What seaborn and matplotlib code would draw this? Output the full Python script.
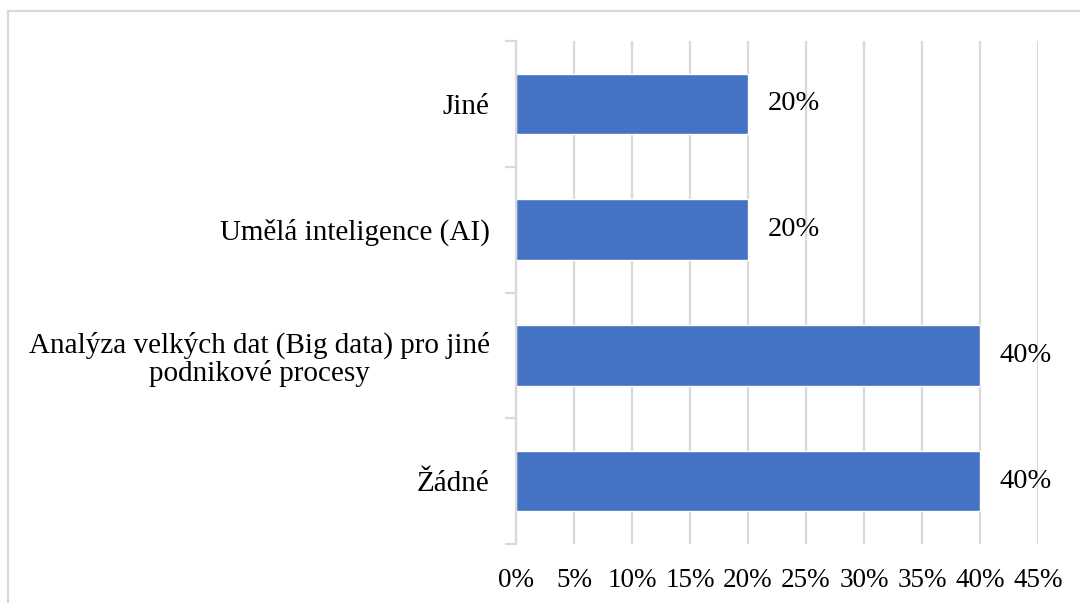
import matplotlib
matplotlib.use("Agg")
import matplotlib.pyplot as plt
import seaborn as sns
import pandas as pd
from matplotlib.patches import Rectangle
from matplotlib.ticker import FixedLocator

categories = ["Jiné", "Umělá inteligence (AI)",
              "Analýza velkých dat (Big data) pro jiné\npodnikové procesy", "Žádné"]
values = [20, 20, 40, 40]
xticks = [0, 5, 10, 15, 20, 25, 30, 35, 40, 45]
xtick_labels = [f"{t}%" for t in xticks]

sns.set_theme(style="white")
plt.rcParams['font.family'] = ['Liberation Serif', 'DejaVu Serif']

df = pd.DataFrame({"cat": categories, "val": values})

fig = plt.figure(figsize=(10.8, 6.03), dpi=100)
ax = fig.add_axes([516/1080, 1-544/603, (1038-516)/1080, (544-41)/603])

grid_c = "#D9D9D9"
ax.set_axisbelow(True)
ax.xaxis.grid(True, color=grid_c, linewidth=1.6)
ax.yaxis.grid(False)

sns.barplot(data=df, x="val", y="cat", orient="h", color="#4472C4",
            width=0.48, edgecolor="white", linewidth=1.0, ax=ax, saturation=1)

ax.set_xlim(0, 45)
ax.set_ylim(len(categories) - 0.5, -0.5)
ax.set_xticks(xticks)
ax.set_xticklabels(xtick_labels, fontsize=19.5, color="black")
ax.tick_params(axis="x", length=0, pad=17)

ax.set_yticks(range(len(categories)))
ax.set_yticklabels(categories, fontsize=21, color="black", multialignment="center",
                   linespacing=1.05)
ax.tick_params(axis="y", which="major", length=0, pad=19)
ax.yaxis.set_minor_locator(FixedLocator([i - 0.5 for i in range(len(categories) + 1)]))
ax.tick_params(axis="y", which="minor", length=8, width=1.6, color=grid_c, left=True)

ax.set_xlabel("")
ax.set_ylabel("")
for s in ["top", "right", "bottom"]:
    ax.spines[s].set_visible(False)
ax.spines["left"].set_color(grid_c)
ax.spines["left"].set_linewidth(1.6)

for cont in ax.containers:
    ax.bar_label(cont, labels=[f"{v}%" for v in values], padding=14,
                 fontsize=20.5, color="black")

border = Rectangle((8/1080, -0.2), 1.3, 1 - 11/603 + 0.2, transform=fig.transFigure,
                   fill=False, edgecolor=grid_c, linewidth=1.6, clip_on=False)
fig.patches.append(border)

fig.savefig("out.png", dpi=100)
